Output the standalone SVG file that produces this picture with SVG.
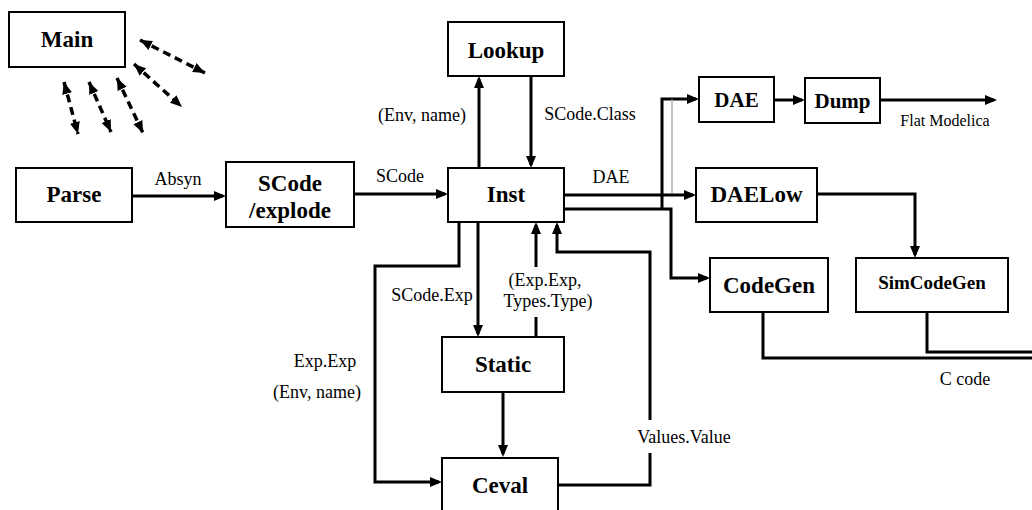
<svg xmlns="http://www.w3.org/2000/svg" width="1032" height="510" viewBox="0 0 1032 510">
<style>
.box{fill:#fff;stroke:#000;stroke-width:2}
.nt{font-family:"Liberation Serif","Times New Roman",serif;font-weight:bold;font-size:23px;text-anchor:middle;fill:#000}
.lb{font-family:"Liberation Serif","Times New Roman",serif;font-size:18px;text-anchor:middle;fill:#000}
.c{fill:none;stroke:#000;stroke-width:3;marker-end:url(#ah)}
.l{fill:none;stroke:#000;stroke-width:3}
.d{fill:none;stroke:#000;stroke-width:3.5;stroke-dasharray:8 5;marker-start:url(#dh);marker-end:url(#dh)}
</style>
<defs>
<marker id="ah" viewBox="0 0 12 10" refX="9" refY="5" markerWidth="12" markerHeight="10" markerUnits="userSpaceOnUse" orient="auto">
<path d="M0,0 L12,5 L0,10 z" fill="#000"/>
</marker>
<marker id="dh" viewBox="0 0 12 10" refX="12" refY="5" markerWidth="12" markerHeight="11" markerUnits="userSpaceOnUse" orient="auto-start-reverse">
<path d="M0,0 L12,5 L0,10 z" fill="#000"/>
</marker>
</defs>
<rect width="1032" height="510" fill="#fff"/>
<g id="connectors">
<path class="d" d="M140,40 L205,73"/>
<path class="d" d="M134,64 L182,107"/>
<path class="d" d="M117,78 L143,133"/>
<path class="d" d="M89,82 L111,132"/>
<path class="d" d="M64,82 L78,134"/>
<path class="c" d="M132,196 H223"/>
<path class="c" d="M354,194 H445"/>
<path class="c" d="M479,168 V79"/>
<path class="c" d="M531,76 V165"/>
<path class="c" d="M564,195 H693"/>
<path class="c" d="M564,209 H671 V278 H707"/>
<path class="c" d="M662,209 V99 H696"/>
<path d="M672,99 V193" fill="none" stroke="#999" stroke-width="1.2"/>
<path class="c" d="M478,222 V334"/>
<path class="l" d="M536,337 V317"/>
<path class="c" d="M536,267 V225"/>
<path class="c" d="M459,222 V266 H375 V482 H439"/>
<path class="l" d="M558,485 H650 V453"/>
<path class="c" d="M650,420 V252 H557 V225"/>
<path class="c" d="M503,392 V454"/>
<path class="c" d="M774,100 H802"/>
<path class="c" d="M880,100 H994"/>
<path class="c" d="M817,194 H915 V255"/>
<path class="l" d="M763,312 V358 H1032"/>
<path class="l" d="M927,312 V352 H1032"/>
<g id="labels">
<text class="lb" x="178" y="185">Absyn</text>
<text class="lb" x="400" y="182">SCode</text>
<text class="lb" x="422" y="121">(Env, name)</text>
<text class="lb" x="590" y="120">SCode.Class</text>
<text class="lb" x="611" y="183">DAE</text>
<text class="lb" x="945" y="126" style="font-size:16px">Flat Modelica</text>
<text class="lb" x="965" y="385">C code</text>
<text class="lb" x="432" y="301">SCode.Exp</text>
<text class="lb" x="545" y="286">(Exp.Exp,</text>
<text class="lb" x="548" y="307">Types.Type)</text>
<text class="lb" x="325" y="367">Exp.Exp</text>
<text class="lb" x="317" y="398">(Env, name)</text>
<text class="lb" x="684" y="443">Values.Value</text>
</g>
</g>
<g id="Main"><rect class="box" x="9" y="12" width="116" height="55"/><text class="nt" x="67" y="47">Main</text></g>
<g id="Parse"><rect class="box" x="16" y="168" width="116" height="54"/><text class="nt" x="74" y="202">Parse</text></g>
<g id="SCodeExplode"><rect class="box" x="226" y="162" width="128" height="65"/><text class="nt" x="290" y="191">SCode</text><text class="nt" x="290" y="218">/explode</text></g>
<g id="Lookup"><rect class="box" x="448" y="22" width="116" height="54"/><text class="nt" x="506" y="58">Lookup</text></g>
<g id="Inst"><rect class="box" x="448" y="168" width="116" height="54"/><text class="nt" x="506" y="202">Inst</text></g>
<g id="DAE"><rect class="box" x="699" y="77" width="75" height="45"/><text class="nt" x="736.5" y="107" style="font-size:21px">DAE</text></g>
<g id="Dump"><rect class="box" x="805" y="78" width="75" height="45"/><text class="nt" x="842.5" y="108" style="font-size:21px">Dump</text></g>
<g id="DAELow"><rect class="box" x="696" y="168" width="121" height="54"/><text class="nt" x="756.5" y="202">DAELow</text></g>
<g id="CodeGen"><rect class="box" x="710" y="258" width="118" height="54"/><text class="nt" x="769" y="293">CodeGen</text></g>
<g id="SimCodeGen"><rect class="box" x="856" y="258" width="152" height="54"/><text class="nt" x="932" y="289" style="font-size:19px">SimCodeGen</text></g>
<g id="Static"><rect class="box" x="442" y="337" width="122" height="55"/><text class="nt" x="503" y="372">Static</text></g>
<g id="Ceval"><rect class="box" x="442" y="458" width="116" height="56"/><text class="nt" x="500" y="493">Ceval</text></g>
</svg>
